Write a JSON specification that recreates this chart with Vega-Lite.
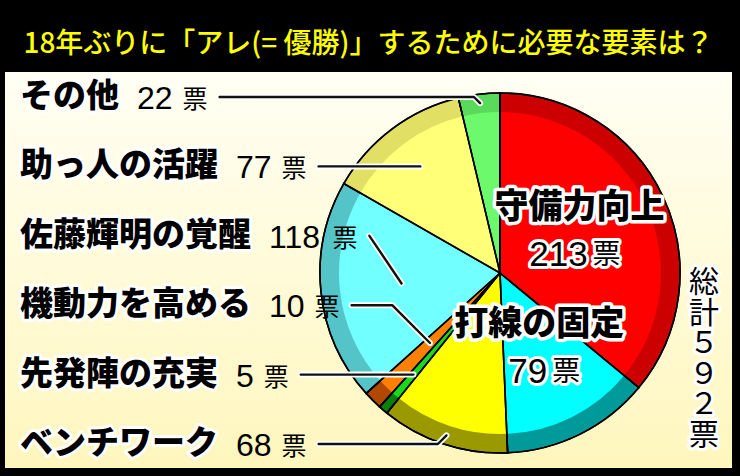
{
  "$schema": "https://vega.github.io/schema/vega-lite/v6.json",
  "autosize": {"type": "none"},
  "width": 727,
  "height": 396,
  "padding": {"left": 5, "top": 72, "right": 8, "bottom": 8},
  "background": "#000000",
  "config": {"view": {"stroke": null}},
  "title": {
    "text": "18年ぶりに「アレ(= 優勝)」するために必要な要素は？",
    "color": "#ffff00",
    "font": "Noto Sans CJK JP",
    "fontSize": 28,
    "fontWeight": 500,
    "anchor": "middle",
    "offset": 13
  },
  "data": {
    "values": [
      {"item": "守備力向上", "votes": 213},
      {"item": "打線の固定", "votes": 79},
      {"item": "ベンチワーク", "votes": 68},
      {"item": "先発陣の充実", "votes": 5},
      {"item": "機動力を高める", "votes": 10},
      {"item": "佐藤輝明の覚醒", "votes": 118},
      {"item": "助っ人の活躍", "votes": 77},
      {"item": "その他", "votes": 22}
    ]
  },
  "transform": [
    {"window": [{"op": "row_number", "as": "idx"}]},
    {"joinaggregate": [{"op": "sum", "field": "votes", "as": "total"}]},
    {"window": [{"op": "sum", "field": "votes", "as": "cum"}], "sort": [{"field": "idx"}], "frame": [null, 0]},
    {"calculate": "(datum.cum - datum.votes / 2) / datum.total * 2 * PI", "as": "mid"},
    {"calculate": "datum.mid < PI ? 'in' : 'out'", "as": "side"},
    {"calculate": "8 - datum.idx", "as": "k"},
    {"calculate": "176 - 69.4 * datum.k", "as": "ly"},
    {"calculate": "-480", "as": "namex"},
    {"calculate": "-480 + length(datum.item) * 33 + 18", "as": "numx"},
    {"calculate": "datum.numx + length('' + datum.votes) * 17.8 + 10", "as": "unitx"},
    {"calculate": "datum.unitx + 25 + 12", "as": "linex"},
    {"calculate": "cos(datum.mid) < 0.001 && cos(datum.mid) > -0.001 ? -1 : datum.ly / cos(datum.mid)", "as": "rraw"},
    {"calculate": "datum.rraw < 99 ? 99 : min(datum.rraw, 171)", "as": "rl"},
    {"calculate": "datum.rl * sin(datum.mid)", "as": "ex"},
    {"calculate": "datum.rl * cos(datum.mid)", "as": "ey"},
    {"calculate": "max(datum.linex, datum.ex - abs(datum.ey - datum.ly))", "as": "elbx"},
    {"calculate": "88 * sin(datum.mid)", "as": "icx"},
    {"calculate": "88 * cos(datum.mid)", "as": "icy"}
  ],
  "resolve": {"scale": {"color": "independent"}},
  "layer": [
    {
      "data": {"values": [{"bg": 1}]},
      "mark": {
        "type": "rect",
        "color": {
          "gradient": "linear", "x1": 0, "y1": 0, "x2": 0, "y2": 1,
          "stops": [{"offset": 0, "color": "#fffff4"}, {"offset": 1, "color": "#fff6bd"}]
        }
      },
      "encoding": {
        "x": {"value": 0}, "x2": {"value": "width"},
        "y": {"value": 0}, "y2": {"value": "height"}
      }
    },
    {
      "mark": {"type": "arc", "outerRadius": 180, "stroke": "#000000", "strokeWidth": 1.5,
               "x": {"expr": "scale('x', 0)"}, "y": {"expr": "scale('y', 0)"}},
      "encoding": {
        "theta": {"field": "votes", "type": "quantitative", "stack": true},
        "order": {"field": "idx", "type": "quantitative"},
        "color": {"field": "item", "type": "nominal", "legend": null,
          "scale": {"domain": ["守備力向上", "打線の固定", "ベンチワーク", "先発陣の充実", "機動力を高める", "佐藤輝明の覚醒", "助っ人の活躍", "その他"],
                    "range": ["#cc0000", "#009a9a", "#9a9a00", "#0a800a", "#b04800", "#55c4c8", "#e2e064", "#5ada5a"]}}
      }
    },
    {
      "mark": {"type": "arc", "outerRadius": 161, "strokeWidth": 0,
               "x": {"expr": "scale('x', 0)"}, "y": {"expr": "scale('y', 0)"}},
      "encoding": {
        "theta": {"field": "votes", "type": "quantitative", "stack": true},
        "order": {"field": "idx", "type": "quantitative"},
        "color": {"field": "item", "type": "nominal", "legend": null,
          "scale": {"domain": ["守備力向上", "打線の固定", "ベンチワーク", "先発陣の充実", "機動力を高める", "佐藤輝明の覚醒", "助っ人の活躍", "その他"],
                    "range": ["#ff0000", "#00ffff", "#ffff00", "#19d919", "#ff8000", "#72ffff", "#ffff78", "#6cfa6c"]}}
      }
    },
    {
      "mark": {"type": "arc", "outerRadius": 180, "fillOpacity": 0, "stroke": "#000000", "strokeWidth": 1.6,
               "x": {"expr": "scale('x', 0)"}, "y": {"expr": "scale('y', 0)"}},
      "encoding": {
        "theta": {"field": "votes", "type": "quantitative", "stack": true},
        "order": {"field": "idx", "type": "quantitative"},
        "detail": {"field": "item", "type": "nominal"}
      }
    },
    {
      "transform": [
        {"filter": "datum.side == 'out'"},
        {"calculate": "datum.linex", "as": "p0"},
        {"calculate": "datum.elbx", "as": "p1"},
        {"calculate": "datum.ex", "as": "p2"},
        {"fold": ["p0", "p1", "p2"], "as": ["pt", "lx"]},
        {"calculate": "datum.pt == 'p2' ? datum.ey : datum.ly", "as": "lyv"}
      ],
      "mark": {"type": "line", "color": "#ffffff", "strokeWidth": 6, "strokeCap": "round", "strokeJoin": "round"},
      "encoding": {
        "x": {"field": "lx", "type": "quantitative", "scale": {"domain": [-495, 232], "nice": false, "zero": false}, "axis": null},
        "y": {"field": "lyv", "type": "quantitative", "scale": {"domain": [-195, 201], "nice": false, "zero": false}, "axis": null},
        "detail": {"field": "item", "type": "nominal"},
        "order": {"field": "pt", "type": "ordinal"}
      }
    },
    {
      "transform": [
        {"filter": "datum.side == 'out'"},
        {"calculate": "datum.linex", "as": "p0"},
        {"calculate": "datum.elbx", "as": "p1"},
        {"calculate": "datum.ex", "as": "p2"},
        {"fold": ["p0", "p1", "p2"], "as": ["pt", "lx"]},
        {"calculate": "datum.pt == 'p2' ? datum.ey : datum.ly", "as": "lyv"}
      ],
      "mark": {"type": "line", "color": "#111111", "strokeWidth": 2.4, "strokeCap": "round", "strokeJoin": "round"},
      "encoding": {
        "x": {"field": "lx", "type": "quantitative", "scale": {"domain": [-495, 232], "nice": false, "zero": false}, "axis": null},
        "y": {"field": "lyv", "type": "quantitative", "scale": {"domain": [-195, 201], "nice": false, "zero": false}, "axis": null},
        "detail": {"field": "item", "type": "nominal"},
        "order": {"field": "pt", "type": "ordinal"}
      }
    },
    {
      "transform": [{"filter": "datum.side == 'out'"}],
      "mark": {"type": "text", "align": "left", "baseline": "middle", "font": "Noto Sans CJK JP", "fontSize": 33, "fontWeight": 900,
               "color": "#ffffff", "stroke": "#ffffff", "strokeWidth": 6, "strokeJoin": "round"},
      "encoding": {
        "x": {"field": "namex", "type": "quantitative", "scale": {"domain": [-495, 232], "nice": false, "zero": false}, "axis": null},
        "y": {"field": "ly", "type": "quantitative", "scale": {"domain": [-195, 201], "nice": false, "zero": false}, "axis": null},
        "text": {"field": "item", "type": "nominal"}
      }
    },
    {
      "transform": [{"filter": "datum.side == 'out'"}],
      "mark": {"type": "text", "align": "left", "baseline": "middle", "font": "Noto Sans CJK JP", "fontSize": 33, "fontWeight": 900, "color": "#000000"},
      "encoding": {
        "x": {"field": "namex", "type": "quantitative", "scale": {"domain": [-495, 232], "nice": false, "zero": false}, "axis": null},
        "y": {"field": "ly", "type": "quantitative", "scale": {"domain": [-195, 201], "nice": false, "zero": false}, "axis": null},
        "text": {"field": "item", "type": "nominal"}
      }
    },
    {
      "transform": [{"filter": "datum.side == 'out'"}],
      "mark": {"type": "text", "align": "left", "baseline": "alphabetic", "dy": 12, "font": "Liberation Sans", "fontSize": 32, "color": "#000000"},
      "encoding": {
        "x": {"field": "numx", "type": "quantitative", "scale": {"domain": [-495, 232], "nice": false, "zero": false}, "axis": null},
        "y": {"field": "ly", "type": "quantitative", "scale": {"domain": [-195, 201], "nice": false, "zero": false}, "axis": null},
        "text": {"field": "votes", "type": "nominal"}
      }
    },
    {
      "transform": [{"filter": "datum.side == 'out'"}],
      "mark": {"type": "text", "align": "left", "baseline": "alphabetic", "dy": 11, "font": "Noto Sans CJK JP", "fontSize": 25, "color": "#000000"},
      "encoding": {
        "x": {"field": "unitx", "type": "quantitative", "scale": {"domain": [-495, 232], "nice": false, "zero": false}, "axis": null},
        "y": {"field": "ly", "type": "quantitative", "scale": {"domain": [-195, 201], "nice": false, "zero": false}, "axis": null},
        "text": {"value": "票"}
      }
    },
    {
      "transform": [{"filter": "datum.side == 'in'"}],
      "mark": {"type": "text", "align": "center", "baseline": "middle", "dy": -27, "font": "Noto Sans CJK JP", "fontSize": 34, "fontWeight": 900,
               "color": "#ffffff", "stroke": "#ffffff", "strokeWidth": 7, "strokeJoin": "round"},
      "encoding": {
        "x": {"field": "icx", "type": "quantitative", "scale": {"domain": [-495, 232], "nice": false, "zero": false}, "axis": null},
        "y": {"field": "icy", "type": "quantitative", "scale": {"domain": [-195, 201], "nice": false, "zero": false}, "axis": null},
        "text": {"field": "item", "type": "nominal"}
      }
    },
    {
      "transform": [{"filter": "datum.side == 'in'"}],
      "mark": {"type": "text", "align": "center", "baseline": "middle", "dy": -27, "font": "Noto Sans CJK JP", "fontSize": 34, "fontWeight": 900, "color": "#000000"},
      "encoding": {
        "x": {"field": "icx", "type": "quantitative", "scale": {"domain": [-495, 232], "nice": false, "zero": false}, "axis": null},
        "y": {"field": "icy", "type": "quantitative", "scale": {"domain": [-195, 201], "nice": false, "zero": false}, "axis": null},
        "text": {"field": "item", "type": "nominal"}
      }
    },
    {
      "transform": [{"filter": "datum.side == 'in'"}],
      "mark": {"type": "text", "align": "right", "baseline": "alphabetic", "dx": 8, "dy": 31, "font": "Liberation Sans", "fontSize": 35,
               "color": "#ffffff", "stroke": "#ffffff", "strokeWidth": 6, "strokeJoin": "round"},
      "encoding": {
        "x": {"field": "icx", "type": "quantitative", "scale": {"domain": [-495, 232], "nice": false, "zero": false}, "axis": null},
        "y": {"field": "icy", "type": "quantitative", "scale": {"domain": [-195, 201], "nice": false, "zero": false}, "axis": null},
        "text": {"field": "votes", "type": "nominal"}
      }
    },
    {
      "transform": [{"filter": "datum.side == 'in'"}],
      "mark": {"type": "text", "align": "right", "baseline": "alphabetic", "dx": 8, "dy": 31, "font": "Liberation Sans", "fontSize": 35, "color": "#000000"},
      "encoding": {
        "x": {"field": "icx", "type": "quantitative", "scale": {"domain": [-495, 232], "nice": false, "zero": false}, "axis": null},
        "y": {"field": "icy", "type": "quantitative", "scale": {"domain": [-195, 201], "nice": false, "zero": false}, "axis": null},
        "text": {"field": "votes", "type": "nominal"}
      }
    },
    {
      "transform": [{"filter": "datum.side == 'in'"}],
      "mark": {"type": "text", "align": "left", "baseline": "alphabetic", "dx": 13, "dy": 29, "font": "Noto Sans CJK JP", "fontSize": 28,
               "color": "#ffffff", "stroke": "#ffffff", "strokeWidth": 6, "strokeJoin": "round"},
      "encoding": {
        "x": {"field": "icx", "type": "quantitative", "scale": {"domain": [-495, 232], "nice": false, "zero": false}, "axis": null},
        "y": {"field": "icy", "type": "quantitative", "scale": {"domain": [-195, 201], "nice": false, "zero": false}, "axis": null},
        "text": {"value": "票"}
      }
    },
    {
      "transform": [{"filter": "datum.side == 'in'"}],
      "mark": {"type": "text", "align": "left", "baseline": "alphabetic", "dx": 13, "dy": 29, "font": "Noto Sans CJK JP", "fontSize": 28, "color": "#000000"},
      "encoding": {
        "x": {"field": "icx", "type": "quantitative", "scale": {"domain": [-495, 232], "nice": false, "zero": false}, "axis": null},
        "y": {"field": "icy", "type": "quantitative", "scale": {"domain": [-195, 201], "nice": false, "zero": false}, "axis": null},
        "text": {"value": "票"}
      }
    },
    {
      "transform": [
        {"aggregate": [{"op": "sum", "field": "votes", "as": "sum"}]},
        {"calculate": "replace(replace(replace(replace(replace(replace(replace(replace(replace(replace('' + datum.sum, regexp('0','g'), '０'), regexp('1','g'), '１'), regexp('2','g'), '２'), regexp('3','g'), '３'), regexp('4','g'), '４'), regexp('5','g'), '５'), regexp('6','g'), '６'), regexp('7','g'), '７'), regexp('8','g'), '８'), regexp('9','g'), '９')", "as": "wide"},
        {"calculate": "join(split('総計' + datum.wide + '票', ''), '\\n')", "as": "vert"}
      ],
      "mark": {"type": "text", "align": "center", "baseline": "middle", "lineBreak": "\n", "lineHeight": 30.5, "font": "Noto Sans CJK JP", "fontSize": 30,
               "color": "#ffffff", "stroke": "#ffffff", "strokeWidth": 6, "strokeJoin": "round"},
      "encoding": {
        "x": {"datum": 204, "type": "quantitative", "scale": {"domain": [-495, 232], "nice": false, "zero": false}, "axis": null},
        "y": {"datum": -10, "type": "quantitative", "scale": {"domain": [-195, 201], "nice": false, "zero": false}, "axis": null},
        "text": {"field": "vert", "type": "nominal"}
      }
    },
    {
      "transform": [
        {"aggregate": [{"op": "sum", "field": "votes", "as": "sum"}]},
        {"calculate": "replace(replace(replace(replace(replace(replace(replace(replace(replace(replace('' + datum.sum, regexp('0','g'), '０'), regexp('1','g'), '１'), regexp('2','g'), '２'), regexp('3','g'), '３'), regexp('4','g'), '４'), regexp('5','g'), '５'), regexp('6','g'), '６'), regexp('7','g'), '７'), regexp('8','g'), '８'), regexp('9','g'), '９')", "as": "wide"},
        {"calculate": "join(split('総計' + datum.wide + '票', ''), '\\n')", "as": "vert"}
      ],
      "mark": {"type": "text", "align": "center", "baseline": "middle", "lineBreak": "\n", "lineHeight": 30.5, "font": "Noto Sans CJK JP", "fontSize": 30, "color": "#000000"},
      "encoding": {
        "x": {"datum": 204, "type": "quantitative", "scale": {"domain": [-495, 232], "nice": false, "zero": false}, "axis": null},
        "y": {"datum": -10, "type": "quantitative", "scale": {"domain": [-195, 201], "nice": false, "zero": false}, "axis": null},
        "text": {"field": "vert", "type": "nominal"}
      }
    }
  ]
}
